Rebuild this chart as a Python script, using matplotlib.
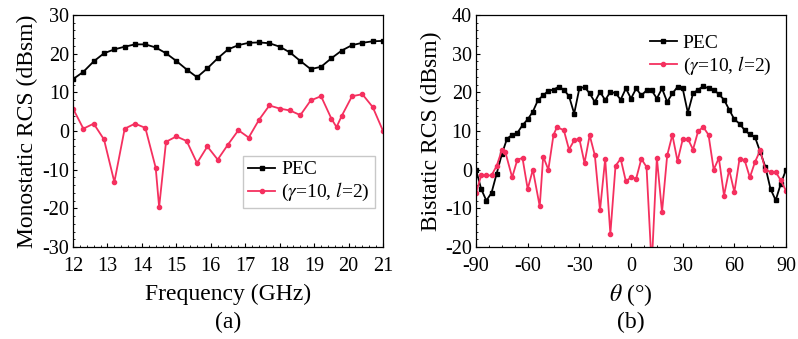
import numpy as np
import matplotlib.pyplot as plt

plt.rcParams['font.family'] = ['Liberation Serif', 'DejaVu Serif']
plt.rcParams['mathtext.fontset'] = 'stix'
plt.rcParams['axes.unicode_minus'] = False

# (a) monostatic RCS vs frequency
freq = [12.0, 12.3, 12.6, 12.9, 13.2, 13.5, 13.8, 14.1, 14.4, 14.7, 15.0,
        15.3, 15.6, 15.9, 16.2, 16.5, 16.8, 17.1, 17.4, 17.7, 18.0, 18.3,
        18.6, 18.9, 19.2, 19.5, 19.8, 20.1, 20.4, 20.7, 21.0]
pec_mono = [13.4, 15.3, 18.0, 20.1, 21.1, 21.8, 22.4, 22.4, 21.6, 20.1, 18.1,
            15.9, 13.9, 16.2, 18.8, 21.1, 22.2, 22.8, 22.9, 22.7, 21.8, 20.3,
            18.1, 16.0, 16.6, 18.8, 20.8, 22.2, 22.8, 23.2, 23.3]

freq_meta = [12.0, 12.3, 12.6, 12.9, 13.2, 13.5, 13.8, 14.1, 14.4, 14.5, 14.7,
             15.0, 15.3, 15.6, 15.9, 16.2, 16.5, 16.8, 17.1, 17.4, 17.7, 18.0,
             18.3, 18.6, 18.9, 19.2, 19.5, 19.65, 19.8, 20.1, 20.4, 20.7, 21.0]
meta_mono = [5.8, 0.6, 1.9, -2.2, -13.2, 0.6, 1.9, 0.8, -9.5, -19.7, -2.8,
             -1.4, -2.6, -8.3, -4.0, -7.4, -3.5, 0.2, -1.7, 2.9, 6.6, 5.8,
             5.3, 4.1, 7.9, 9.0, 3.2, 1.0, 3.9, 9.0, 9.5, 6.2, 0.0]

# (b) bistatic RCS vs angle
theta_pec = [-90, -87, -84, -81, -78, -75, -72, -69, -66, -63, -60, -57, -54,
             -51, -48, -45, -42, -39, -36, -33, -30, -27, -24, -21, -18, -15,
             -12, -9, -6, -3, 0, 3, 6, 9, 12, 15, 18, 21, 24, 27, 30, 33, 36,
             39, 42, 45, 48, 51, 54, 57, 60, 63, 66, 69, 72, 75, 78, 81, 84,
             87, 90]
pec_bi = [0, -5, -8, -6, -1, 4, 8, 9, 9.5, 11.5, 13, 15, 18,
          19.2, 20.4, 20.7, 21.4, 20.7, 19, 14.5, 21, 21.4, 19.7, 17.5, 20.1, 18,
          20.1, 19.8, 18.1, 21, 18.4, 21, 19.2, 20.5, 20.5, 18.4, 21, 17.5, 19.7,
          21.4, 21, 14.7, 19.7, 20.7, 21.6, 21, 20.7, 19.5, 18.1, 15.5, 13, 11.9,
          10.2, 9.1, 8.4, 4.6, 0.7, -5, -7.9, -3.6, 0]

theta_meta = [-90, -87, -84, -81, -78, -75, -73, -69, -66, -63, -60, -57, -53,
              -51, -48, -45, -43, -39, -36, -33, -30, -27, -24, -21, -18, -15,
              -12, -9, -6, -3, 0, 3, 6, 9, 12, 15, 18, 21, 24, 27, 30, 33, 36,
              39, 42, 45, 48, 51, 54, 57, 60, 63, 66, 69, 72, 75, 78, 81, 84,
              87, 90]
meta_bi = [-6, -1.5, -1.5, -1.5, 1, 5, 4.6, -2, 2.6, 3, -5, 0, -9.5,
           3.4, 0, 9, 11, 10.2, 5.2, 7.6, 8, 1.7, 8.9, 3.7, -10.5, 2.8,
           -16.6, 1, 2.8, -3, -2, -2.3, 2.8, 0.7, -25, 3.1, -11, 3.7, 9,
           2.2, 7.8, 8, 5.2, 10, 11, 9, 0, 3, -6.7, 0, -5.8, 2.8, 2.4,
           -2, 2, 5, 0, -0.6, -0.6, -2.8, -5.5]

red = '#f5305f'
meta_label = r'($\gamma$=10, $l$=2)'
tick_fs = 14.5
label_fs = 17

fig = plt.figure(figsize=(7.98, 3.39), dpi=100)
ax1 = fig.add_axes([0.0915, 0.2714, 0.3885, 0.6844])
ax2 = fig.add_axes([0.5965, 0.2714, 0.3885, 0.6844])

ax1.plot(freq, pec_mono, color='black', marker='s', ms=3, lw=1.3, label='PEC')
ax1.plot(freq_meta, meta_mono, color=red, marker='o', ms=3, lw=1.3,
         label=meta_label)
ax1.set_xlim(12, 21)
ax1.set_ylim(-30, 30)
ax1.set_xticks(np.arange(12, 22, 1))
ax1.set_yticks(np.arange(-30, 31, 10))
ax1.set_ylabel('Monostatic RCS (dBsm)', fontsize=label_fs, labelpad=3)
ax1.legend(loc='lower right', bbox_to_anchor=(0.985, 0.15), fontsize=14,
           frameon=True, fancybox=False, edgecolor='#bbbbbb',
           handlelength=1.4, handletextpad=0.3, borderpad=0.25,
           labelspacing=0.15, borderaxespad=0.2)

ax2.plot(theta_pec, pec_bi, color='black', marker='s', ms=3, lw=1.3, label='PEC')
ax2.plot(theta_meta, meta_bi, color=red, marker='o', ms=3, lw=1.3,
         label=meta_label)
ax2.set_xlim(-90, 90)
ax2.set_ylim(-20, 40)
ax2.set_xticks(np.arange(-90, 91, 30))
ax2.set_yticks(np.arange(-20, 41, 10))
ax2.set_ylabel('Bistatic RCS (dBsm)', fontsize=label_fs, labelpad=2)
ax2.legend(loc='upper right', bbox_to_anchor=(1.0, 0.98), fontsize=14,
           frameon=False, handlelength=1.4, handletextpad=0.3,
           borderpad=0.25, labelspacing=0.15)

for ax in (ax1, ax2):
    ax.tick_params(direction='in', labelsize=tick_fs, length=3, pad=3)
    ax.tick_params(axis='x', pad=7)
    ax.minorticks_on()
    ax.tick_params(which='minor', direction='in', length=1.5)
    for s in ax.spines.values():
        s.set_linewidth(0.9)

# x-axis titles and panel captions
ax1.text(0.5, -0.205, 'Frequency (GHz)', transform=ax1.transAxes,
         ha='center', va='center', fontsize=label_fs)
ax2.text(0.5, -0.205, r'$\theta$ (°)', transform=ax2.transAxes,
         ha='center', va='center', fontsize=label_fs)
ax1.text(0.5, -0.325, '(a)', transform=ax1.transAxes, ha='center',
         va='center', fontsize=label_fs)
ax2.text(0.5, -0.325, '(b)', transform=ax2.transAxes, ha='center',
         va='center', fontsize=label_fs)

fig.savefig('out.png', dpi=100)
